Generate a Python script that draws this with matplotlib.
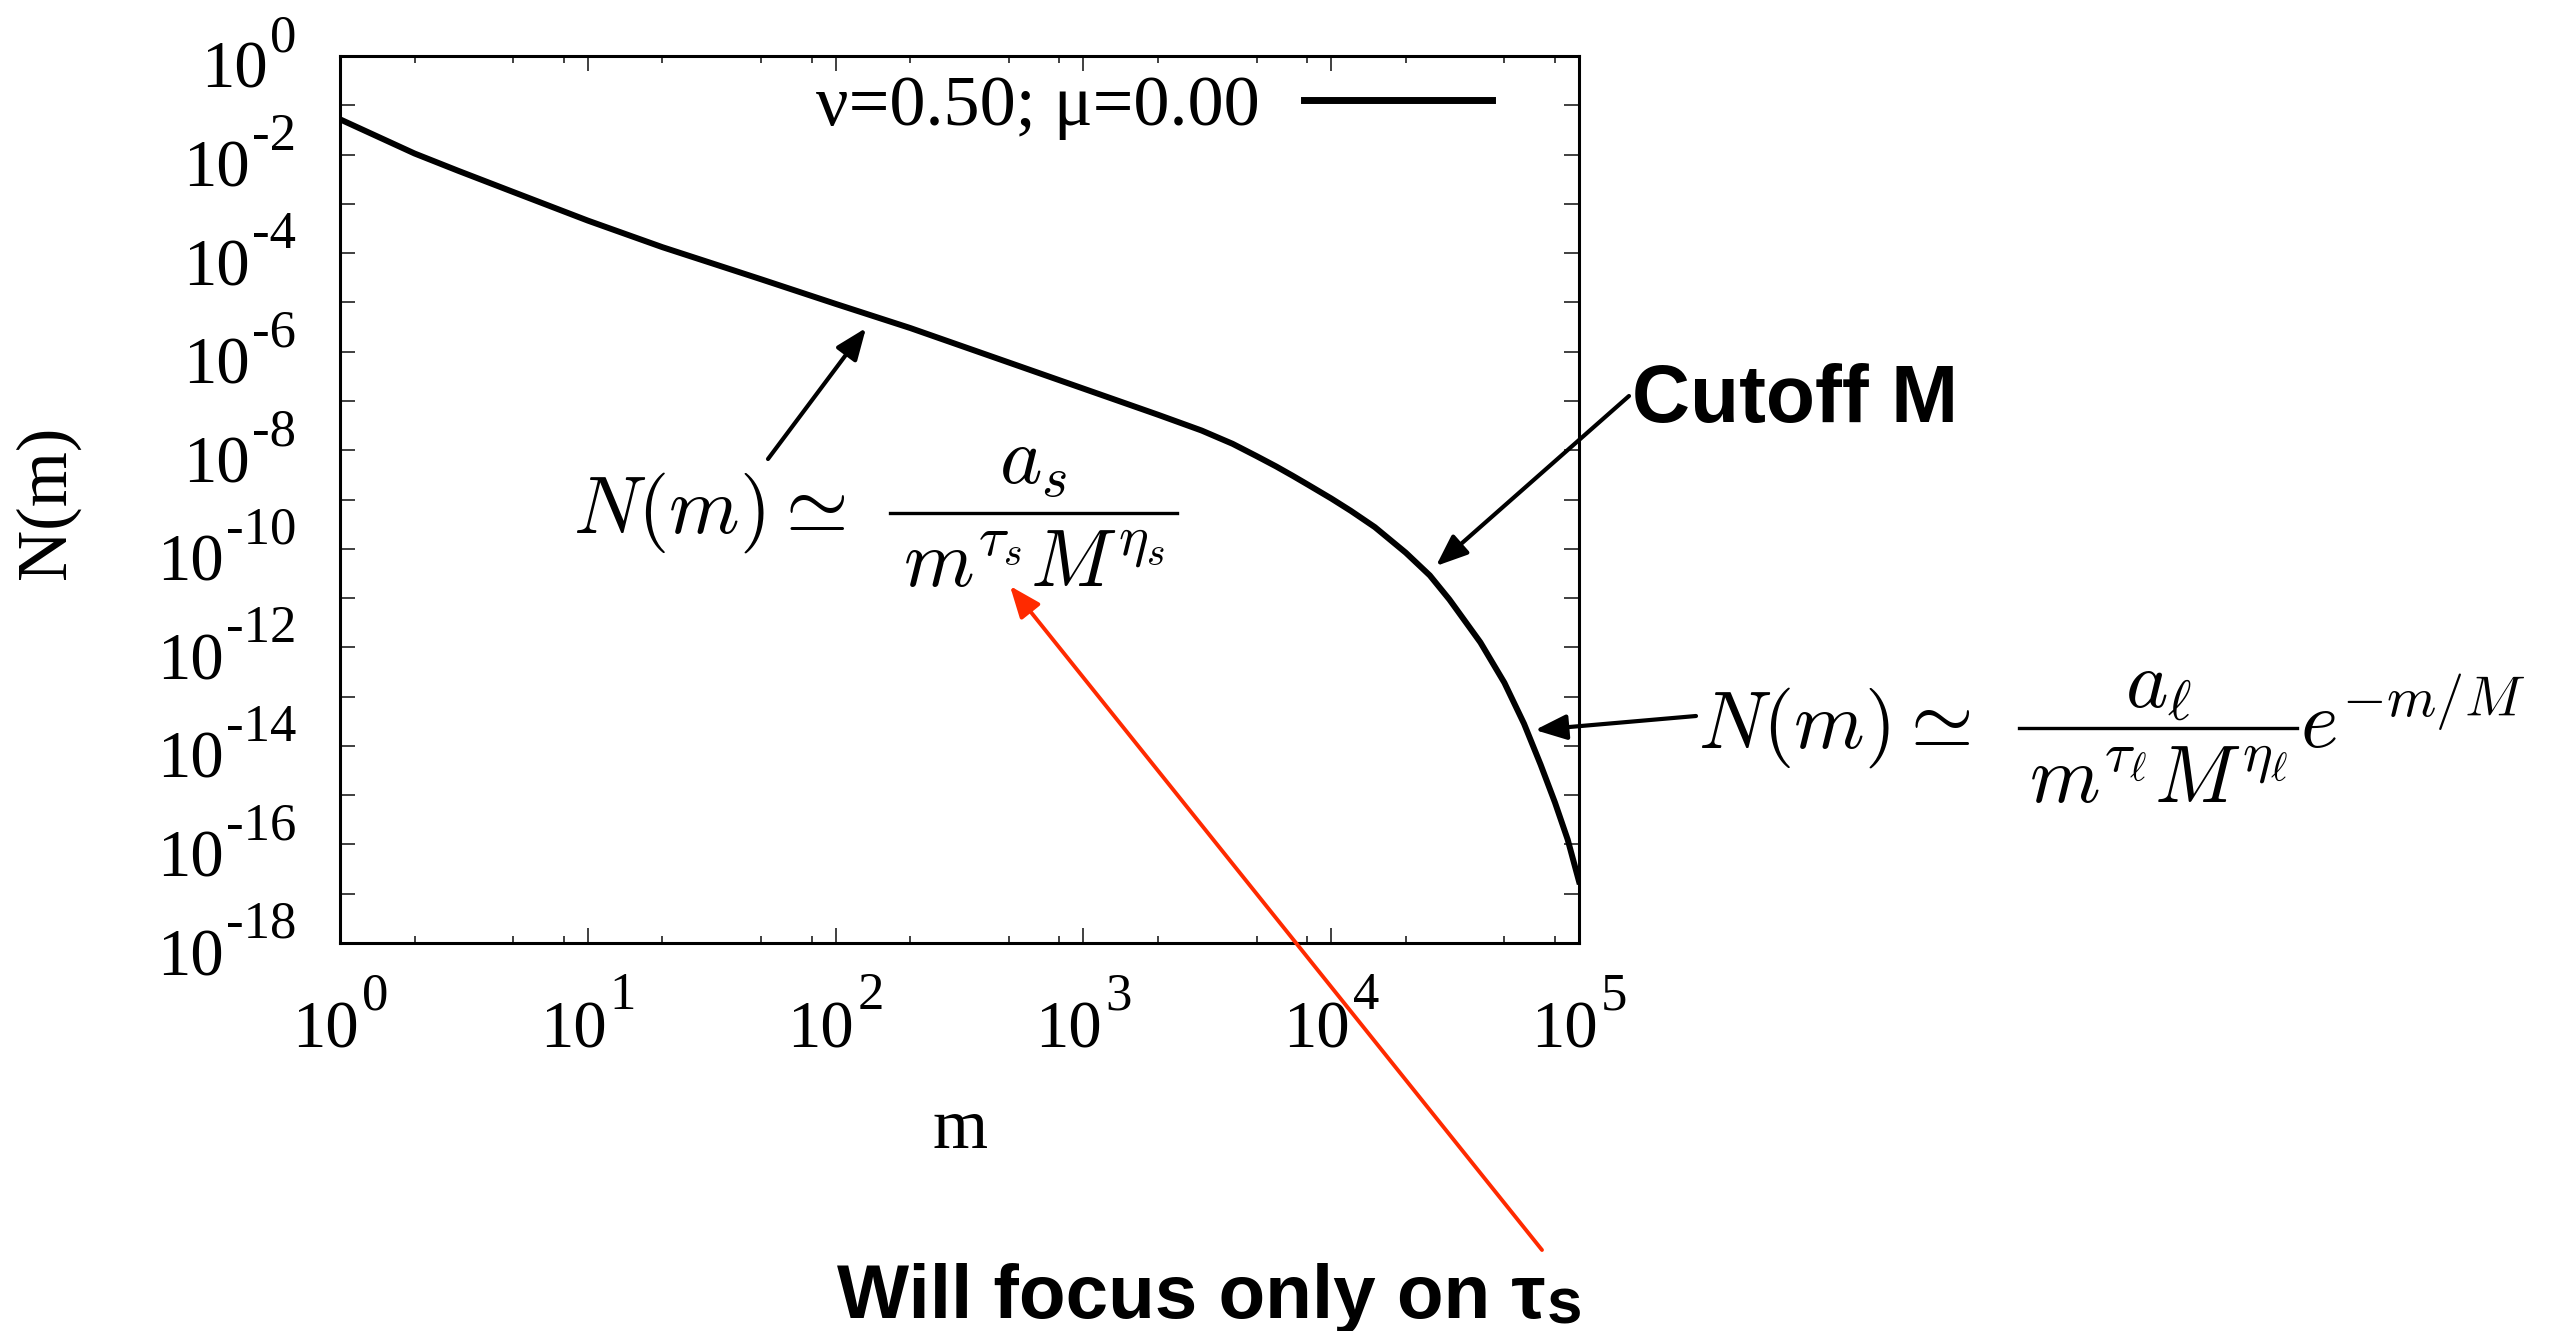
import numpy as np
import matplotlib
matplotlib.use("Agg")
import matplotlib.pyplot as plt
from matplotlib.lines import Line2D
from matplotlib.patches import FancyArrowPatch
from matplotlib.ticker import LogLocator, NullLocator, NullFormatter

# mass distribution N(m)
m_vals = [1, 2, 3, 5, 10, 20, 50, 100, 200, 500, 1000, 2000, 3000, 4000, 5000,
          6000, 7000, 8000, 10000, 12000, 15000, 20000, 25000, 30000, 40000,
          50000, 60000, 70000, 80000, 90000, 100000]
N_vals = [5.19e-2, 1.05e-2, 4.68e-3, 1.74e-3, 4.57e-4, 1.32e-4, 2.95e-5, 9.33e-6,
          3.02e-6, 6.03e-7, 1.78e-7, 5.25e-8, 2.51e-8, 1.35e-8, 7.59e-9,
          4.68e-9, 3.02e-9, 2.04e-9, 1.05e-9, 5.89e-10, 2.75e-10, 8.32e-11,
          2.88e-11, 9.33e-12, 1.26e-12, 1.91e-13, 2.82e-14, 4.17e-15,
          7.08e-16, 1.26e-16, 1.78e-17]
series_label = "\u03bd=0.50; \u03bc=0.00"

x_exps = [0, 1, 2, 3, 4, 5]
y_exps = [0, 2, 4, 6, 8, 10, 12, 14, 16, 18]

W, H = 2564, 1331
plt.rcParams['font.family'] = 'Liberation Serif'
plt.rcParams['mathtext.fontset'] = 'cm'

def fp(x, y):
    # pixel position (from top-left) -> figure fraction
    return (x / W, 1 - y / H)

fig = plt.figure(figsize=(W / 100, H / 100), dpi=100)
ax = fig.add_axes([340 / W, 1 - 943 / H, (1579 - 340) / W, (943 - 56) / H])

ax.plot(m_vals, N_vals, '-', color='black', lw=4.3, label=series_label)
ax.set_xscale('log')
ax.set_yscale('log')
ax.set_xlim(1, 1e5)
ax.set_ylim(1e-18, 1)

ax.set_yticks([10.0 ** -k for k in range(19)])
ax.yaxis.set_minor_locator(NullLocator())
ax.xaxis.set_major_locator(LogLocator(base=10, numticks=10))
ax.xaxis.set_minor_locator(LogLocator(base=10, subs=(2, 5, 8), numticks=10))
ax.xaxis.set_minor_formatter(NullFormatter())
ax.tick_params(which='both', direction='in', top=True, right=True,
               labelbottom=False, labelleft=False, color='0.25', width=1.4)
ax.tick_params(which='major', length=10.8)
ax.tick_params(which='minor', length=5)
for s in ax.spines.values():
    s.set_linewidth(2.2)

leg = ax.legend(loc='center right', bbox_to_anchor=fp(1492, 107),
                bbox_transform=fig.transFigure, frameon=False, markerfirst=False,
                fontsize=52, handlelength=2.6, handletextpad=0.62,
                borderpad=0, borderaxespad=0)
leg.get_lines()[0].set_linewidth(5)

fig.canvas.draw()
r = fig.canvas.get_renderer()

# gnuplot-style tick labels: "10" with a raised exponent
base_fs, exp_fs = 48, 38
for k in y_exps:
    yp = H - ax.transData.transform((1, 10.0 ** -k))[1]
    e = fig.text(*fp(296, yp - 5), '-%d' % k if k else '0', ha='right',
                 va='baseline', fontsize=exp_fs)
    bb = e.get_window_extent(r)
    fig.text(*fp(bb.x0 - 2, yp + 32), '10', ha='right', va='baseline',
             fontsize=base_fs)

for k in x_exps:
    xp = ax.transData.transform((10.0 ** k, 1))[0]
    b = fig.text(0, 0, '10', ha='left', va='baseline', fontsize=base_fs)
    e = fig.text(0, 0, str(k), ha='left', va='baseline', fontsize=exp_fs)
    w1 = b.get_window_extent(r).width
    w2 = e.get_window_extent(r).width
    x0 = xp - (w1 + 3 + w2) / 2
    b.set_position(fp(x0, 1047))
    e.set_position(fp(x0 + w1 + 3, 1009))

fig.text(*fp(47, 502), 'N(m)', rotation=90, ha='center', va='center', fontsize=51)
fig.text(*fp(960, 1130), 'm', ha='center', va='center', fontsize=51)

# formulas: lhs, stacked fraction, optional trailing factor
def formula(x, y, num, den, x0, x1, bar_y, num_y, den_y, tail=None, fs=58):
    lhs = fig.text(*fp(x, y), r'$N(m)\simeq$', ha='left', va='baseline', fontsize=fs)
    xc = (x0 + x1) / 2
    fig.text(*fp(xc, num_y), num, ha='center', va='baseline', fontsize=fs)
    fig.text(*fp(xc, den_y), den, ha='center', va='baseline', fontsize=fs)
    fig.add_artist(Line2D([x0 / W, x1 / W], [1 - bar_y / H] * 2,
                          transform=fig.transFigure, color='black', lw=2.4))
    if tail:
        fig.text(*fp(x1 + 3, y), tail, ha='left', va='baseline', fontsize=fs)

formula(573, 533, r'$a_s$', r'$m^{\tau_s}M^{\eta_s}$', 890, 1177, 513, 483, 587)
formula(1698, 748, r'$a_\ell$', r'$m^{\tau_\ell}M^{\eta_\ell}$', 2019, 2297,
        728, 707, 803, tail=r'$e^{-m/M}$')

fig.text(*fp(1632, 422), 'Cutoff M', ha='left', va='baseline', fontsize=58,
         family='Liberation Sans', weight='bold')
t = fig.text(*fp(837, 1318), 'Will focus only on \u03c4', ha='left', va='baseline',
             fontsize=55, family='Liberation Sans', weight='bold')
tb = t.get_window_extent(r)
fig.text(*fp(tb.x1 + 1, 1324), 's', ha='left', va='baseline', fontsize=46,
         family='Liberation Sans', weight='bold')

def arrow(p0, p1, color='black', lw=3):
    fig.add_artist(FancyArrowPatch(
        fp(*p0), fp(*p1), transform=fig.transFigure,
        arrowstyle='-|>,head_length=0.55,head_width=0.22', mutation_scale=35,
        color=color, lw=lw, shrinkA=0, shrinkB=0))

arrow((768, 459), (866, 328))
arrow((1629, 396), (1436, 566))
arrow((1696, 716), (1535, 730))
arrow((1542, 1250), (1010, 586), color='#ff2a00', lw=2.8)

fig.savefig('out.png', dpi=100)
